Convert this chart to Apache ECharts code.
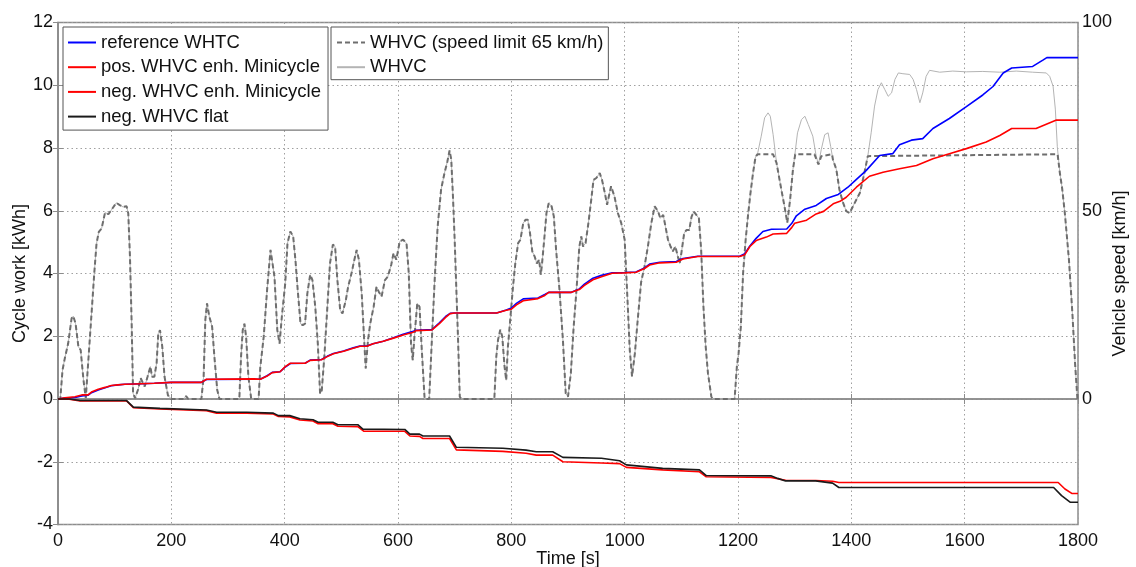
<!DOCTYPE html>
<html><head><meta charset="utf-8">
<script src="https://cdn.jsdelivr.net/npm/echarts@6/dist/echarts.min.js"></script>
<style>html,body{margin:0;padding:0;background:#fff}#c{width:1136px;height:567px}</style>
</head><body><div id="c"></div>
<script>
// ---- data ----
// cumulative cycle work [kWh] vs time [s]
const refWork = [[0,0],[12,0.03],[30,0.05],[42,0.1],[53,0.12],[59,0.2],[71,0.29],[83,0.36],[94,0.42],[106,0.45],[118,0.47],[135,0.48],[170,0.5],[200,0.53],[253,0.53],[262,0.62],[346,0.63],[357,0.63],[369,0.74],[378,0.85],[392,0.87],[401,1.02],[410,1.13],[436,1.14],[445,1.24],[465,1.26],[475,1.36],[486,1.45],[504,1.53],[521,1.63],[533,1.69],[545,1.69],[556,1.76],[574,1.84],[592,1.95],[609,2.06],[627,2.16],[632,2.19],[660,2.21],[673,2.43],[684,2.63],[692,2.73],[700,2.74],[774,2.74],[791,2.84],[800,2.9],[809,3.05],[821,3.19],[847,3.22],[859,3.33],[866,3.4],[906,3.4],[920,3.51],[929,3.66],[944,3.85],[959,3.94],[978,4.02],[1000,4.03],[1020,4.05],[1035,4.18],[1044,4.3],[1062,4.36],[1091,4.38],[1103,4.48],[1129,4.55],[1203,4.55],[1212,4.63],[1221,4.88],[1232,5.12],[1244,5.34],[1259,5.41],[1286,5.42],[1295,5.6],[1303,5.84],[1318,6.05],[1338,6.17],[1356,6.39],[1377,6.52],[1394,6.75],[1409,7.0],[1426,7.28],[1450,7.76],[1473,7.82],[1485,8.1],[1506,8.25],[1526,8.3],[1544,8.62],[1573,8.94],[1603,9.32],[1632,9.69],[1650,9.96],[1668,10.39],[1683,10.55],[1720,10.6],[1738,10.8],[1745,10.88],[1800,10.88]];
const posEnhWork = [[0,0],[12,0.04],[30,0.07],[42,0.13],[53,0.13],[59,0.22],[71,0.31],[83,0.37],[94,0.43],[106,0.45],[118,0.47],[135,0.48],[170,0.5],[200,0.53],[253,0.53],[262,0.63],[346,0.64],[357,0.63],[369,0.73],[378,0.84],[392,0.87],[401,1.03],[410,1.14],[436,1.14],[445,1.23],[465,1.25],[475,1.35],[486,1.44],[504,1.52],[521,1.62],[533,1.68],[545,1.68],[556,1.76],[574,1.84],[592,1.94],[609,2.04],[627,2.13],[632,2.18],[660,2.2],[673,2.4],[684,2.6],[692,2.72],[700,2.74],[774,2.74],[791,2.83],[800,2.86],[809,3.0],[821,3.13],[847,3.2],[859,3.3],[866,3.4],[906,3.4],[920,3.49],[929,3.62],[944,3.8],[959,3.9],[978,4.01],[1000,4.02],[1020,4.04],[1035,4.16],[1044,4.27],[1062,4.34],[1091,4.36],[1103,4.46],[1129,4.54],[1203,4.54],[1212,4.6],[1221,4.86],[1232,5.05],[1250,5.16],[1262,5.26],[1286,5.28],[1295,5.47],[1300,5.6],[1321,5.7],[1338,5.9],[1351,5.98],[1368,6.22],[1380,6.3],[1391,6.43],[1409,6.75],[1432,7.1],[1456,7.23],[1485,7.34],[1515,7.44],[1544,7.66],[1573,7.82],[1603,7.98],[1638,8.19],[1662,8.4],[1683,8.62],[1726,8.62],[1762,8.89],[1800,8.89]];
const negEnhWork = [[0,0],[20,-0.01],[39,-0.06],[121,-0.06],[133,-0.28],[180,-0.32],[262,-0.37],[280,-0.45],[333,-0.45],[380,-0.48],[389,-0.56],[409,-0.57],[427,-0.67],[450,-0.7],[459,-0.79],[485,-0.79],[494,-0.87],[529,-0.88],[540,-1.03],[612,-1.03],[621,-1.18],[638,-1.19],[644,-1.26],[691,-1.26],[703,-1.62],[785,-1.67],[826,-1.73],[844,-1.79],[873,-1.79],[891,-2.0],[959,-2.04],[991,-2.06],[1003,-2.18],[1067,-2.26],[1132,-2.32],[1144,-2.48],[1258,-2.5],[1284,-2.59],[1337,-2.6],[1367,-2.62],[1378,-2.66],[1765,-2.66],[1777,-2.87],[1789,-3.01],[1800,-3.01]];
const negFlatWork = [[0,0],[20,0],[39,-0.05],[121,-0.05],[133,-0.26],[180,-0.3],[262,-0.35],[280,-0.42],[333,-0.42],[380,-0.45],[389,-0.53],[409,-0.53],[427,-0.63],[450,-0.66],[459,-0.74],[485,-0.74],[494,-0.82],[529,-0.82],[538,-0.96],[612,-0.97],[621,-1.12],[638,-1.12],[644,-1.18],[691,-1.18],[703,-1.54],[785,-1.57],[826,-1.63],[844,-1.68],[873,-1.68],[891,-1.86],[959,-1.89],[991,-1.97],[1003,-2.1],[1067,-2.21],[1132,-2.26],[1144,-2.44],[1258,-2.45],[1270,-2.53],[1284,-2.61],[1337,-2.61],[1367,-2.68],[1378,-2.82],[1757,-2.82],[1771,-3.08],[1786,-3.29],[1800,-3.29]];

// vehicle speed [km/h] vs time [s]; identical for both profiles up to 1231 s
const speedShared = [[0,0],[4,0],[8,7.7],[12,10.8],[18,14.8],[24,21.4],[27,22],[31,20],[36,13.9],[40,13],[45,5],[49,0.2],[52,0.6],[56,15.7],[60,24.5],[64,33.4],[68,41.3],[72,44.4],[77,45.3],[83,49.5],[89,49.1],[96,50.6],[103,52.1],[109,51.5],[115,51],[121,51.2],[124,49.3],[127,37.8],[130,20],[132.5,1.5],[136,0.2],[141,2.4],[146,5.5],[150,4.2],[153,3.3],[158,5.9],[163,8.6],[166,5.9],[170,5.9],[174,9.5],[177,17.4],[180,18.3],[184,13.9],[188,5.9],[194,1],[200,0],[222,0],[226,0.8],[230,0],[253,0],[257,5.9],[260,21],[263,25.4],[267,21.9],[272,19.2],[276,11.2],[281,2.4],[285,0],[320,0],[323,11.2],[326,18.3],[329,20],[332,16.5],[336,5.9],[341,0],[354,0],[357,8.5],[363,16.5],[369,29],[375,39.6],[378,40],[382,32.5],[387,18.3],[391,14.7],[395,21.8],[401,30.7],[405,41.4],[410,44.5],[415,43.2],[419,36.9],[423,29],[428,20],[432,19.6],[436,20],[440,28],[445,33],[449,31.6],[454,24.5],[458.5,14.7],[462.5,1.4],[465.5,2.3],[470,11.2],[475,23.6],[480,36],[485,41],[489,40.5],[493,31.6],[498,23.6],[502,22.7],[508,26.3],[512,29.8],[518,33.4],[523,37],[527,39.6],[531,37],[536,28],[540,16.5],[543,8.1],[547,15.6],[551,20],[557,24.5],[562,29.8],[566,28.5],[571,27.2],[577,31.6],[582,32.5],[588,35.6],[592,38.7],[597,37],[603,41.8],[609,42.3],[615,41.4],[619,33.4],[623,14.7],[626,10.3],[629,16.5],[634,25.4],[638,24.5],[642,13],[647,0],[655,0],[660,16.5],[665,32.5],[670,45.8],[676,55.6],[682,60],[687,63],[691,66],[694,63.6],[697,53.8],[700,42.3],[703,29],[706,15.7],[709,0.6],[712,0],[770,0],[773.5,11.3],[776.5,15.7],[780.5,18.4],[784,16.6],[788,8.6],[791,5],[794,13.9],[799,22.8],[803,29.9],[807,36],[812,41.4],[816,42.3],[821,46.7],[825,47.6],[829,47.6],[833,44],[837,39.2],[841,37.9],[845,36],[849,37],[852,33],[854,35.6],[858,42.3],[862,49.4],[866,52],[871,51.2],[875,48.5],[879,39.6],[885,29],[891,15.7],[896,1.5],[900,0.6],[905,6.8],[910,19.2],[915,29],[920,40.5],[923.5,43.2],[926.5,40.5],[931,41.4],[936,46.7],[941,52.9],[945,58.2],[950,58.7],[956,60],[960,58.2],[965,54.7],[969,51.6],[972,53.8],[976,56.5],[982,53.8],[988,49.4],[994,46.7],[1000,42.3],[1005,26.3],[1009,13],[1013,6],[1018,12.1],[1023,21],[1029,31],[1035,35.2],[1041,40.5],[1047,46.7],[1053,51.2],[1059,49.8],[1063,48],[1068,48.9],[1072,45.8],[1076.5,42.3],[1081,40.5],[1085,39.2],[1089.5,40.5],[1093,38.3],[1097,36],[1100,38.7],[1105,44],[1109,44.9],[1114,44.9],[1118,48.4],[1122,49.8],[1126.5,48.9],[1131,48],[1135,39.6],[1139,24.6],[1143,13.9],[1147,6.8],[1153,0.6],[1156,0],[1194,0],[1198,8.6],[1201,12.1],[1205,19.2],[1209,33.4],[1213.5,42.3],[1217.5,48.5],[1222,54.7],[1226.5,60],[1231,64.4]];
// full WHVC after 1231 s
const speedHighFull = [[1235,65.5],[1241,69.8],[1247,74.7],[1253,76],[1257,75.1],[1262,70.2],[1268,62.7],[1276.5,55.6],[1282,51.2],[1287,46.8],[1292,53],[1297,61],[1300,64.5],[1305,70.7],[1312,74.2],[1318,75.1],[1324,72.9],[1332,69.8],[1338,64.5],[1342,62.3],[1347,66.3],[1353,70.2],[1359,70.7],[1363.5,67.1],[1367.5,63.6],[1373.5,61],[1379,55.6],[1385,52.3],[1391,49.9],[1397,49.4],[1403,51.2],[1409,53],[1415,54.7],[1423,60],[1429,64.5],[1435,70.7],[1441,77.8],[1447,82.2],[1453,84],[1459,82.2],[1465,80.4],[1471,81.3],[1477,84.9],[1483,86.6],[1491,86.4],[1503,86.2],[1509,84.9],[1515,82.2],[1521,78.7],[1526,81.3],[1532,85.7],[1538,87.3],[1556,86.8],[1579,87.1],[1603,86.9],[1632,87],[1662,86.8],[1691,87.1],[1720,86.8],[1744,86.6],[1750,85.7],[1756,83.1],[1760,77],[1763.5,67],[1768,60],[1772,56],[1777,49],[1784,37],[1790,23],[1795,9],[1799,0],[1800,0]];
// speed-limited WHVC (65 km/h) after 1231 s
const speedHighLimited = [[1235,65],[1262,65],[1268,62.7],[1276.5,55.6],[1282,51.2],[1287,46.8],[1292,53],[1297,61],[1301,65],[1335,65],[1342,62.3],[1347,64.5],[1350,65],[1366,65],[1367.5,63.6],[1373.5,61],[1379,55.6],[1385,52.3],[1391,49.9],[1397,49.4],[1403,51.2],[1409,53],[1415,54.7],[1423,60],[1429,64.5],[1432,65],[1764,65],[1768,60],[1772,56],[1777,49],[1784,37],[1790,23],[1795,9],[1799,0],[1800,0]];

const seriesNames = ['reference WHTC','pos. WHVC enh. Minicycle','neg. WHVC enh. Minicycle','neg. WHVC flat','WHVC (speed limit 65 km/h)','WHVC'];
const xLabelTitle = 'Time [s]';
const yLeftTitle = 'Cycle work [kWh]';
const yRightTitle = 'Vehicle speed [km/h]';
const rightTickLabels = [0, 50, 100];

// ---- chart ----
const FONT = '"Liberation Sans", Arial, sans-serif';
const frameColor = '#8c8c8c';
const gridLine = {show:true, lineStyle:{color:'#a0a0a0', type:[1.5,3], width:1}};
const chart = echarts.init(document.getElementById('c'), null, {renderer:'canvas'});

const legendBase = {
  orient:'vertical', itemWidth:28, itemHeight:14, itemGap:5.7,
  borderColor:'#555', borderWidth:1, backgroundColor:'#fff',
  selectedMode:false,
  itemStyle:{opacity:0, borderWidth:0},
  textStyle:{fontSize:18.5, color:'#111', fontFamily:FONT, lineHeight:18}
};

chart.setOption({
  animation:false,
  backgroundColor:'#fff',
  textStyle:{fontFamily:FONT},
  grid:{left:58, right:58, top:22.5, bottom:42.5, containLabel:false, outerBoundsMode:'none',
        show:true, borderColor:frameColor, borderWidth:1.5},
  legend:[
    Object.assign({}, legendBase, {left:63, top:27, padding:[6,7,4,4], data:seriesNames.slice(0,4)}),
    Object.assign({}, legendBase, {left:331, top:27, padding:[6,5,3,5], data:seriesNames.slice(4)})
  ],
  xAxis:[
    {type:'value', min:0, max:1800, interval:200, position:'bottom',
     name:xLabelTitle, nameLocation:'middle', nameGap:26, nameMoveOverlap:false,
     nameTextStyle:{fontSize:18, color:'#111', fontFamily:FONT, verticalAlign:'top'},
     axisLine:{show:true, lineStyle:{color:frameColor, width:1.5}},
     axisTick:{show:true, inside:true, length:5, lineStyle:{color:frameColor}},
     axisLabel:{fontSize:18, color:'#111', margin:8, fontFamily:FONT, formatter:function(v){return String(v);}},
     splitLine:gridLine},
    {type:'value', min:0, max:1800, interval:200, position:'top',
     axisLine:{show:true, lineStyle:{color:frameColor, width:1.5}},
     axisTick:{show:true, inside:true, length:5, lineStyle:{color:frameColor}},
     axisLabel:{show:false}, splitLine:{show:false}}
  ],
  yAxis:[
    {type:'value', min:-4, max:12, interval:2, position:'left',
     name:yLeftTitle, nameLocation:'middle', nameGap:29, nameRotate:90, nameMoveOverlap:false,
     nameTextStyle:{fontSize:18, color:'#111', fontFamily:FONT},
     axisLine:{show:true, lineStyle:{color:frameColor, width:1.5}},
     axisTick:{show:true, inside:true, length:5, lineStyle:{color:frameColor}},
     axisLabel:{fontSize:18, color:'#111', margin:5, fontFamily:FONT},
     splitLine:gridLine},
    {type:'value', min:-100/3, max:100, interval:100/6, position:'right',
     name:yRightTitle, nameLocation:'middle', nameGap:33, nameRotate:90, nameMoveOverlap:false,
     nameTextStyle:{fontSize:18, color:'#111', fontFamily:FONT},
     axisLine:{show:true, lineStyle:{color:frameColor, width:1.5}},
     axisTick:{show:true, inside:true, length:5, lineStyle:{color:frameColor}},
     axisLabel:{fontSize:18, color:'#111', margin:4, fontFamily:FONT,
       formatter:function(v){
         for (const t of rightTickLabels){ if (Math.abs(v-t)<0.01) return String(t); }
         return '';
       }},
     splitLine:{show:false}}
  ],
  series:[
    {name:seriesNames[5], type:'line', yAxisIndex:1, data:speedShared.concat(speedHighFull),
     showSymbol:false, symbol:'none', lineStyle:{color:'#b4b4b4', width:1}, itemStyle:{color:'#b4b4b4'}, z:2},
    {name:seriesNames[4], type:'line', yAxisIndex:1, data:speedShared.concat(speedHighLimited),
     showSymbol:false, symbol:'none', lineStyle:{color:'#6e6e6e', width:2, type:[5,3]}, itemStyle:{color:'#6e6e6e'}, z:2},
    {name:seriesNames[0], type:'line', data:refWork, showSymbol:false, symbol:'none',
     lineStyle:{color:'#0000ff', width:1.6}, itemStyle:{color:'#0000ff'}, z:3},
    {name:seriesNames[1], type:'line', data:posEnhWork, showSymbol:false, symbol:'none',
     lineStyle:{color:'#ff0000', width:1.6}, itemStyle:{color:'#ff0000'}, z:3},
    {name:seriesNames[2], type:'line', data:negEnhWork, showSymbol:false, symbol:'none',
     lineStyle:{color:'#ff0000', width:1.6}, itemStyle:{color:'#ff0000'}, z:3},
    {name:seriesNames[3], type:'line', data:negFlatWork, showSymbol:false, symbol:'none',
     lineStyle:{color:'#1a1a1a', width:1.6}, itemStyle:{color:'#1a1a1a'}, z:3}
  ]
});
</script></body></html>
